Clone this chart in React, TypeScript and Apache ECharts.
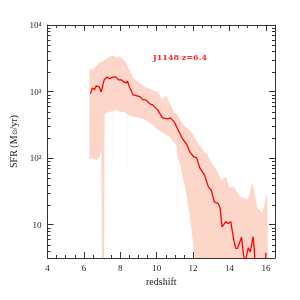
import React, { useEffect, useRef } from "react";
import * as echarts from "echarts";

const lineZ = [6.36, 6.46, 6.57, 6.68, 6.84, 6.95, 7.11, 7.27, 7.40, 7.48, 7.64, 7.75, 7.91, 8.07, 8.18, 8.34, 8.39, 8.50, 8.71, 8.93, 9.09, 9.25, 9.41, 9.62, 9.78, 10.05, 10.32, 10.59, 10.75, 10.96, 11.12, 11.39, 11.66, 11.82, 12.03, 12.20, 12.36, 12.62, 12.84, 13.00, 13.16, 13.37, 13.48, 13.59, 13.80, 13.91, 14.07, 14.23, 14.34, 14.44, 14.66, 14.77, 14.87, 15.03, 15.14, 15.30, 15.36, 15.41];
const lineSFR = [923, 1135, 1060, 1217, 1175, 988, 1496, 1660, 1560, 1603, 1660, 1660, 1496, 1496, 1396, 1349, 1445, 1175, 891, 861, 832, 750, 750, 653, 631, 531, 403, 389, 403, 351, 285, 202, 158, 124, 105, 101, 72, 56, 37, 33, 22, 21, 18, 9.3, 11.1, 10.4, 11.1, 6.0, 4.4, 4.4, 6.5, 3.5, 2.8, 4.5, 3.9, 6.6, 4.3, 2.5];
const tailZ = [15.96, 16.0];
const tailSFR = [2.5, 3.8];

const bandZ = [6.31, 6.47, 6.68, 6.84, 6.95, 6.99, 7.11, 7.14, 7.38, 7.545, 7.55, 7.555, 7.76, 7.95, 8.08, 8.29, 8.395, 8.40, 8.405, 8.72, 8.99, 9.36, 9.79, 10.06, 10.33, 10.49, 10.71, 10.97, 11.11, 11.12, 11.13, 11.16, 11.30, 11.40, 11.56, 11.83, 11.94, 12.10, 12.32, 12.50, 12.64, 12.74, 12.88, 13.01, 13.28, 13.55, 13.82, 13.98, 14.25, 14.45, 14.62, 15.00, 15.27, 15.53, 15.80, 16.07, 16.12];
const bandLow = [94, 101, 94, 101, 133, 1, 1, 460, 496, 500, 1, 505, 531, 500, 496, 479, 460, 1, 450, 417, 403, 376, 316, 266, 240, 224, 209, 170, 150, 1, 140, 100, 79, 56, 37, 13, 7, 1, 1, 1, 1, 1, 1, 1, 1, 1, 1, 1, 1, 1, 1, 1, 1, 1, 1, 1, 1];
const bandHigh = [2265, 2113, 2427, 2692, 2786, 2800, 2985, 2985, 3311, 3500, 3548, 3500, 3311, 3400, 3199, 2786, 2450, 2400, 2380, 1603, 1396, 1175, 1059, 988, 750, 891, 676, 479, 455, 450, 445, 440, 376, 339, 295, 257, 240, 202, 158, 140, 120, 120, 100, 85, 67, 47, 52, 36, 37, 30, 26, 24, 43, 18, 15, 30, 1];

const minorTickValues = [4, 5, 6, 7, 8, 9, 20, 30, 40, 50, 60, 70, 80, 90, 200, 300, 400, 500, 600, 700, 800, 900, 2000, 3000, 4000, 5000, 6000, 7000, 8000, 9000];

const SERIF = "Liberation Serif";
const BAND = "#fdd6ca";
const sup: Record<number, string> = { 2: "\u00b2", 3: "\u00b3", 4: "\u2074" };

function logLabel(v: number): string {
  const e = Math.log10(v);
  const r = Math.round(e);
  if (Math.abs(e - r) > 0.01) return "";
  if (r === 1) return "10";
  return "10" + (sup[r] || "");
}

export default function App() {
  const ref = useRef<HTMLDivElement>(null);
  useEffect(() => {
    if (!ref.current) return;
    const chart = echarts.init(ref.current, null, { renderer: "svg" });
    const axisLineStyle = { color: "#333", width: 1 };
    const xCommon = {
      type: "value" as const,
      min: 4,
      max: 16.5,
      interval: 2,
      axisLine: { show: true, lineStyle: axisLineStyle },
      axisTick: { show: true, inside: true, length: 6, lineStyle: { color: "#333" } },
      minorTick: { show: true, splitNumber: 4, length: 3, lineStyle: { color: "#333" } },
      splitLine: { show: false },
    };
    const yCommon = {
      type: "log" as const,
      logBase: 10,
      min: Math.pow(10, 0.5),
      max: 10000,
      axisLine: { show: true, lineStyle: axisLineStyle },
      axisTick: { show: true, inside: true, length: 6, lineStyle: { color: "#333" } },
      splitLine: { show: false },
    };
    const bandData = bandZ.map((z, i) => [z, bandLow[i], bandHigh[i]]);
    chart.setOption({
      animation: false,
      grid: { left: 42, right: 25, top: 25, bottom: 42 },
      xAxis: [
        {
          ...xCommon,
          position: "bottom",
          name: "redshift",
          nameLocation: "middle",
          nameGap: 12,
          nameTextStyle: { fontFamily: SERIF, fontSize: 10, color: "#222" },
          axisLabel: { fontFamily: SERIF, fontSize: 9, color: "#222", margin: 5, showMaxLabel: false },
        },
        { ...xCommon, position: "top", axisLabel: { show: false } },
      ],
      yAxis: [
        {
          ...yCommon,
          position: "left",
          name: "{a|SFR (M}{b|\u2299}{a|/yr)}",
          nameLocation: "middle",
          nameGap: 25,
          nameRotate: 90,
          nameTextStyle: {
            fontFamily: SERIF,
            color: "#222",
            rich: {
              a: { fontFamily: SERIF, fontSize: 10, color: "#222" },
              b: { fontFamily: SERIF, fontSize: 7, color: "#222", padding: [4, 0, 0, 0] },
            },
          },
          axisLabel: {
            fontFamily: SERIF,
            fontSize: 9,
            color: "#222",
            margin: 6,
            showMinLabel: false,
            formatter: (v: number) => logLabel(v),
          },
        },
        { ...yCommon, position: "right", axisLabel: { show: false } },
      ],
      graphic: [
        {
          type: "text",
          left: 153,
          top: 53,
          style: { text: "J1148 z=6.4", fill: "#ff2a2a", fontSize: 8, fontFamily: "DejaVu Serif", fontWeight: "bold" },
        },
      ],
      series: [
        {
          type: "custom",
          silent: true,
          z: 1,
          data: [0],
          renderItem: (params: any, api: any) => {
            if (params.dataIndex !== 0) return null;
            const cs = params.coordSys;
            const bottom = cs.y + cs.height;
            const top = cs.y;
            const clampY = (y: number) => Math.max(top, Math.min(bottom, y));
            const upper: number[][] = [];
            const lower: number[][] = [];
            bandData.forEach((d) => {
              const hi = api.coord([d[0], d[2]]);
              const lo = api.coord([d[0], d[1]]);
              upper.push([hi[0], clampY(hi[1])]);
              lower.push([lo[0], clampY(lo[1])]);
            });
            const pts = upper.concat(lower.reverse());
            return {
              type: "polygon",
              shape: { points: pts },
              style: { fill: BAND },
            };
          },
        },
        {
          type: "line",
          data: lineZ.map((z, i) => [z, lineSFR[i]]),
          symbol: "none",
          lineStyle: { color: "#ff0000", width: 1.3 },
          clip: true,
          silent: true,
          z: 3,
        },
        {
          type: "line",
          data: tailZ.map((z, i) => [z, tailSFR[i]]),
          symbol: "none",
          lineStyle: { color: "#ff0000", width: 1.3 },
          clip: true,
          silent: true,
          z: 3,
        },
        {
          type: "custom",
          silent: true,
          z: 5,
          data: minorTickValues.map((v) => [4, v]),
          encode: { x: 0, y: 1 },
          renderItem: (params: any, api: any) => {
            const cs = params.coordSys;
            const p = api.coord([4, api.value(1)]);
            const y = Math.round(p[1]) + 0.5;
            const style = { stroke: "#333", lineWidth: 1 };
            return {
              type: "group",
              children: [
                { type: "line", shape: { x1: cs.x, y1: y, x2: cs.x + 3, y2: y }, style },
                { type: "line", shape: { x1: cs.x + cs.width - 3, y1: y, x2: cs.x + cs.width, y2: y }, style },
              ],
            };
          },
        },
      ],
    });
    return () => chart.dispose();
  }, []);
  return <div ref={ref} style={{ position: "fixed", left: 0, top: 0, width: 300, height: 300 }} />;
}
